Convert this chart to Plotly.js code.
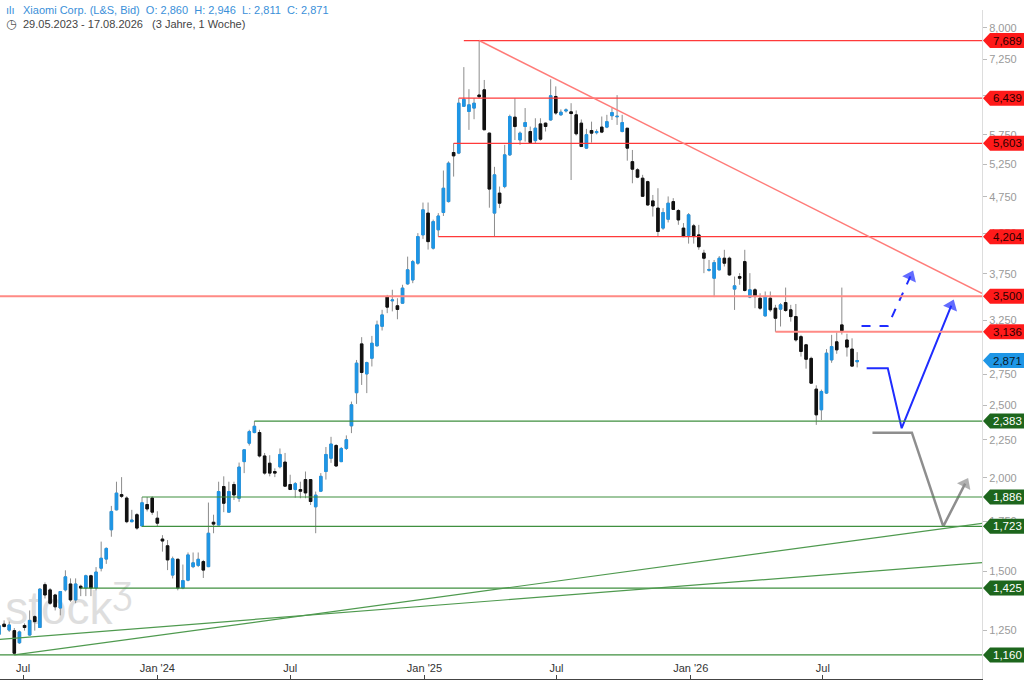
<!DOCTYPE html>
<html>
<head>
<meta charset="utf-8">
<script src="https://cdn.plot.ly/plotly-3.0.1.min.js"></script>
<style>
  html, body { margin: 0; padding: 0; background: #fff; }
  #chart { width: 1024px; height: 680px; }
</style>
</head>
<body>
<div id="chart"></div>
<script>
// weekly candles, first week starts 29.05.2023
const startDate = Date.UTC(2023, 4, 29);

const opens = [
  1.236, 1.275, 1.252, 1.25, 1.204, 1.27, 1.233, 1.305, 1.262, 1.44,
  1.417, 1.395, 1.34, 1.417, 1.443, 1.374, 1.433, 1.425, 1.48, 1.425,
  1.515, 1.558, 1.705, 1.813, 1.90, 1.88, 1.748, 1.786, 1.725, 1.843,
  1.88, 1.767, 1.657, 1.623, 1.483, 1.557, 1.425, 1.46, 1.522, 1.528,
  1.546, 1.522, 1.745, 1.73, 1.948, 1.80, 1.96, 1.879, 2.103, 2.226,
  2.30, 2.30, 2.14, 2.093, 2.04, 2.07, 2.10, 1.96, 1.93, 1.93,
  1.99, 1.99, 1.83, 1.92, 2.04, 2.125, 2.21, 2.103, 2.19, 2.348,
  2.60, 3.022, 2.755, 2.891, 3.004, 3.19, 3.496, 3.45, 3.398, 3.425,
  3.635, 3.679, 3.874, 4.227, 4.52, 4.058, 4.293, 4.528, 4.683, 5.447,
  5.437, 6.28, 6.18, 6.245, 6.502, 6.607, 5.782, 4.52, 4.807, 4.905,
  5.408, 6.073, 5.662, 5.901, 5.811, 5.65, 5.949, 5.962, 6.021, 6.473,
  6.117, 6.19, 6.173, 6.117, 5.962, 5.521, 5.829, 5.79, 5.89, 5.89,
  6.10, 6.08, 5.811, 5.87, 5.296, 5.164, 5.033, 4.98, 4.693, 4.59,
  4.316, 4.435, 4.683, 4.556, 4.316, 4.218, 4.346, 4.227, 3.996, 3.79,
  3.699, 3.796, 3.934, 3.934, 3.577, 3.718, 3.893, 3.49, 3.569, 3.478,
  3.294, 3.478, 3.373, 3.363, 3.432, 3.356, 3.287, 3.09, 3.013, 2.89,
  2.629, 2.467, 2.597, 2.876, 3.041, 3.204, 3.0585, 2.974, 2.860
];
const highs = [
  1.28, 1.29, 1.285, 1.26, 1.25, 1.278, 1.33, 1.31, 1.425, 1.45,
  1.425, 1.40, 1.41, 1.505, 1.468, 1.468, 1.44, 1.485, 1.485, 1.52,
  1.644, 1.615, 1.835, 1.977, 2.005, 1.89, 1.813, 1.795, 1.886, 1.886,
  1.89, 1.805, 1.677, 1.652, 1.57, 1.56, 1.532, 1.59, 1.59, 1.59,
  1.554, 1.854, 1.786, 1.977, 2.01, 1.977, 1.977, 2.097, 2.181, 2.32,
  2.383, 2.32, 2.16, 2.145, 2.06, 2.19, 2.16, 2.02, 1.975, 1.977,
  2.04, 1.99, 1.918, 2.03, 2.20, 2.27, 2.22, 2.20, 2.28, 2.53,
  2.876, 3.085, 2.861, 3.097, 3.246, 3.356, 3.514, 3.57, 3.478, 3.625,
  3.953, 3.913, 4.25, 4.669, 4.67, 4.43, 4.52, 5.153, 5.30, 5.606,
  6.438, 7.085, 6.62, 6.44, 7.689, 6.81, 5.79, 5.212, 4.905, 5.577,
  6.12, 6.438, 5.811, 6.246, 5.90, 6.053, 6.053, 5.973, 6.825, 6.677,
  6.22, 6.24, 6.34, 6.20, 6.03, 5.859, 5.99, 5.85, 6.085, 6.117,
  6.246, 6.50, 6.117, 5.87, 5.49, 5.19, 5.085, 4.994, 4.78, 4.88,
  4.59, 4.758, 4.733, 4.576, 4.383, 4.52, 4.372, 4.359, 4.037, 3.913,
  3.913, 3.96, 4.037, 3.953, 3.718, 3.757, 4.037, 3.757, 3.588, 3.532,
  3.551, 3.551, 3.408, 3.425, 3.594, 3.408, 3.417, 3.107, 3.022, 2.905,
  2.66, 2.625, 2.974, 3.107, 3.131, 3.594, 3.118, 3.074, 2.946
];
const lows = [
  1.23, 1.262, 1.245, 1.16, 1.20, 1.25, 1.23, 1.25, 1.26, 1.38,
  1.353, 1.33, 1.31, 1.41, 1.366, 1.36, 1.39, 1.39, 1.39, 1.415,
  1.50, 1.535, 1.669, 1.81, 1.88, 1.74, 1.745, 1.705, 1.723, 1.804,
  1.785, 1.72, 1.594, 1.506, 1.468, 1.415, 1.42, 1.455, 1.515, 1.52,
  1.47, 1.52, 1.687, 1.73, 1.80, 1.80, 1.869, 1.858, 2.03, 2.21,
  2.295, 2.13, 2.02, 2.01, 2.005, 2.06, 1.948, 1.93, 1.882, 1.879,
  1.879, 1.84, 1.687, 1.915, 1.99, 2.095, 2.07, 2.10, 2.18, 2.296,
  2.512, 2.663, 2.597, 2.819, 2.998, 3.149, 3.322, 3.34, 3.26, 3.417,
  3.625, 3.643, 3.856, 4.175, 4.04, 4.04, 4.204, 4.48, 4.67, 5.058,
  5.42, 6.27, 5.84, 6.035, 6.44, 5.84, 4.596, 4.204, 4.59, 4.88,
  5.39, 5.66, 5.577, 5.633, 5.594, 5.606, 5.65, 5.811, 6.01, 6.117,
  6.10, 6.16, 5.005, 5.74, 5.54, 5.505, 5.616, 5.76, 5.782, 5.871,
  6.021, 5.93, 5.794, 5.312, 4.955, 5.033, 4.751, 4.621, 4.472, 4.205,
  4.293, 4.392, 4.566, 4.36, 4.198, 4.115, 4.115, 4.037, 3.757, 3.775,
  3.49, 3.788, 3.835, 3.725, 3.355, 3.625, 3.551, 3.478, 3.373, 3.356,
  3.287, 3.335, 3.136, 3.188, 3.335, 3.236, 3.043, 2.906, 2.80, 2.675,
  2.355, 2.39, 2.59, 2.851, 2.931, 3.11, 2.906, 2.816, 2.811
];
const closes = [
  1.269, 1.266, 1.272, 1.166, 1.245, 1.262, 1.29, 1.285, 1.42, 1.395,
  1.36, 1.345, 1.41, 1.475, 1.374, 1.443, 1.425, 1.48, 1.425, 1.497,
  1.562, 1.61, 1.804, 1.909, 1.89, 1.748, 1.757, 1.714, 1.853, 1.818,
  1.80, 1.74, 1.647, 1.554, 1.559, 1.425, 1.458, 1.578, 1.54, 1.557,
  1.506, 1.687, 1.735, 1.918, 1.85, 1.918, 1.898, 2.068, 2.181, 2.307,
  2.345, 2.14, 2.03, 2.03, 2.03, 2.15, 1.95, 1.93, 1.965, 1.92,
  1.91, 1.86, 1.897, 2.01, 2.15, 2.22, 2.075, 2.19, 2.25, 2.505,
  2.848, 2.767, 2.853, 3.028, 3.204, 3.304, 3.384, 3.46, 3.36, 3.588,
  3.796, 3.893, 4.205, 4.566, 4.14, 4.403, 4.48, 4.88, 5.271, 5.391,
  6.34, 6.417, 6.308, 6.34, 6.468, 5.842, 4.867, 5.085, 4.66, 5.408,
  6.085, 5.90, 5.782, 5.973, 5.616, 5.871, 5.675, 5.901, 6.487, 6.151,
  6.167, 6.21, 6.141, 5.77, 5.548, 5.754, 5.782, 5.81, 5.80, 5.99,
  6.16, 6.09, 5.973, 5.521, 5.175, 5.049, 4.76, 4.635, 4.621, 4.271,
  4.528, 4.66, 4.571, 4.426, 4.205, 4.496, 4.205, 4.075, 3.934, 3.80,
  3.881, 3.934, 3.874, 3.737, 3.613, 3.699, 3.562, 3.569, 3.496, 3.373,
  3.496, 3.356, 3.27, 3.408, 3.349, 3.287, 3.059, 2.952, 2.882, 2.678,
  2.429, 2.61, 2.937, 2.997, 2.967, 3.147, 2.992, 2.822, 2.871
];

// support / resistance levels, start = candle index where the line begins (null = full width)
const redLevels = [7.689, 6.439, 5.603, 4.204, 3.500, 3.136];
const redStarts = [91, 90, 89, 86, null, 152];
const greenLevels = [2.383, 1.886, 1.723, 1.425, 1.160];
const greenStarts = [50, 28, 28, 16, null];
const lastPrice = 2.871;

// trend lines: value at start and at right edge
const redTrend = { start: 94, from: 7.689, to: 3.53 };
const greenTrendA = { from: 1.217, to: 1.541 };
const greenTrendB = { start: 3, from: 1.160, to: 1.7395 };

// projected paths
const blueX = ['2026-08-30', '2026-09-28', '2026-10-17', '2026-12-24'];
const blueY = [2.803, 2.803, 2.331, 3.40];
const dashX = ['2026-08-23', '2026-09-28', '2026-10-29'];
const dashY = [3.193, 3.193, 3.72];
const grayX = ['2026-09-07', '2026-10-31', '2026-12-13', '2027-01-12'];
const grayY = [2.299, 2.299, 1.723, 1.965];

const yTicks = [1.25, 1.5, 1.75, 2, 2.25, 2.5, 2.75, 3.25, 3.75, 4.25, 4.75, 5.25, 5.75, 6.5, 7.25, 8];
const xTicks = ['2023-07-01', '2024-01-01', '2024-07-01', '2025-01-01', '2025-07-01', '2026-01-01', '2026-07-01'];
const xTickText = ['Jul', "Jan '24", 'Jul', "Jan '25", 'Jul', "Jan '26", 'Jul'];

const xRange = ['2023-05-30 09:00', '2027-02-04 02:00'];
const yRange = [1.077, 8.447];

const fmt = (v) => v.toFixed(3).replace('.', ',');
const dates = opens.map((_, i) => new Date(startDate + i * 7 * 86400000).toISOString().slice(0, 10));

const font = 'Liberation Sans, Arial, sans-serif';
const blue = '#1e96e6';

const wicks = {
  type: 'candlestick',
  x: dates, open: opens, high: highs, low: lows, close: closes,
  increasing: { line: { color: '#8c8c8c', width: 1 }, fillcolor: '#8c8c8c' },
  decreasing: { line: { color: '#8c8c8c', width: 1 }, fillcolor: '#8c8c8c' },
  whiskerwidth: 0,
  hoverinfo: 'skip',
};
const bodies = {
  type: 'candlestick',
  x: dates, open: opens, close: closes,
  high: opens.map((o, i) => Math.max(o, closes[i])),
  low: opens.map((o, i) => Math.min(o, closes[i])),
  increasing: { line: { color: blue, width: 1 }, fillcolor: blue },
  decreasing: { line: { color: '#111111', width: 1 }, fillcolor: '#111111' },
  whiskerwidth: 0,
  hoverinfo: 'skip',
};

// projected path with a solid arrow head on its last point
function arrowPath(xs, ys, color, width, dash) {
  return {
    type: 'scatter', mode: 'lines+markers', x: xs, y: ys,
    line: { color, width, dash },
    marker: {
      symbol: 'triangle-up', angleref: 'previous', color,
      size: xs.map((_, i) => (i === xs.length - 1 ? 13 : 0)),
      line: { width: 0 },
    },
    hoverinfo: 'skip',
  };
}
const grayPath = arrowPath(grayX, grayY, '#8e8e8e', 2.5, 'solid');
const bluePath = arrowPath(blueX, blueY, '#1f2cff', 2, 'solid');
const dashPath = arrowPath(dashX, dashY, '#1f2cff', 2, 'dash');

const shapes = [];
const annotations = [];

// watermark behind the candles
shapes.push({
  type: 'rect', xref: 'paper', yref: 'paper', x0: 0, x1: 0.14, y0: 0.058, y1: 0.158,
  line: { width: 0 }, layer: 'below',
  label: { text: 'stock<sup>Ʒ</sup>', font: { family: font, size: 46, color: '#dedede' }, textposition: 'middle center' },
});

function levelLine(value, start, color, width) {
  if (start === null) {
    shapes.push({ type: 'line', xref: 'paper', yref: 'y', x0: 0, x1: 1, y0: value, y1: value,
      line: { color, width } });
  } else {
    shapes.push({ type: 'line', xref: 'x', yref: 'y', x0: dates[start], x1: xRange[1], y0: value, y1: value,
      line: { color, width } });
  }
}

function priceTag(value, fill, textColor) {
  shapes.push({
    type: 'path', xref: 'paper', yref: 'y', xsizemode: 'pixel', ysizemode: 'pixel',
    xanchor: 1, yanchor: value,
    path: 'M 1 0 L 8 7.5 L 42 7.5 L 42 -7.5 L 8 -7.5 Z',
    fillcolor: fill, line: { width: 0 }, layer: 'above',
  });
  annotations.push({
    xref: 'paper', x: 1, xshift: 25, xanchor: 'center',
    yref: 'y', y: Math.log10(value), yanchor: 'middle',
    text: fmt(value), showarrow: false,
    font: { family: font, size: 11.5, color: textColor },
  });
}

redLevels.forEach((v, i) => {
  const soft = redStarts[i] === null || redStarts[i] > 150;
  levelLine(v, redStarts[i], soft ? '#ff8a85' : '#ff3a3a', soft ? 2 : 1.2);
  priceTag(v, '#ff1a1a', '#2a0000');
});
greenLevels.forEach((v, i) => {
  levelLine(v, greenStarts[i], '#3f8f3f', 1.2);
  priceTag(v, '#1d661d', '#ffffff');
});
priceTag(lastPrice, blue, '#0b1a2a');

// trend lines
shapes.push({ type: 'line', xref: 'x', yref: 'y', x0: dates[redTrend.start], x1: xRange[1],
  y0: redTrend.from, y1: redTrend.to, line: { color: '#ff7b78', width: 1.5 } });
shapes.push({ type: 'line', xref: 'paper', yref: 'y', x0: 0, x1: 1,
  y0: greenTrendA.from, y1: greenTrendA.to, line: { color: '#4f9a4f', width: 1.2 } });
shapes.push({ type: 'line', xref: 'x', yref: 'y', x0: dates[greenTrendB.start], x1: xRange[1],
  y0: greenTrendB.from, y1: greenTrendB.to, line: { color: '#4f9a4f', width: 1.2 } });

// header
annotations.push({
  xref: 'paper', yref: 'paper', x: 0.004, y: 1.0, xanchor: 'left', yanchor: 'middle',
  text: 'ılı', showarrow: false, font: { family: font, size: 11, color: '#3a8fd9' },
});
annotations.push({
  xref: 'paper', yref: 'paper', x: 0.021, y: 1.0, xanchor: 'left', yanchor: 'middle',
  text: 'Xiaomi Corp. (L&S, Bid)  O: ' + fmt(opens[opens.length - 1]) + '  H: ' + fmt(highs[highs.length - 1]) +
    '  L: ' + fmt(lows[lows.length - 1]) + '  C: ' + fmt(closes[closes.length - 1]),
  showarrow: false, font: { family: font, size: 11, color: '#3a8fd9' },
});
annotations.push({
  xref: 'paper', yref: 'paper', x: 0.004, y: 0.9785, xanchor: 'left', yanchor: 'middle',
  text: '◷', showarrow: false, font: { family: 'DejaVu Sans', size: 12, color: '#555' },
});
annotations.push({
  xref: 'paper', yref: 'paper', x: 0.021, y: 0.9785, xanchor: 'left', yanchor: 'middle',
  text: '29.05.2023 - 17.08.2026   (3 Jahre, 1 Woche)',
  showarrow: false, font: { family: font, size: 11, color: '#444' },
});

const layout = {
  width: 1024,
  height: 680,
  margin: { l: 0, r: 42, t: 10, b: 1, pad: 0 },
  paper_bgcolor: '#ffffff',
  plot_bgcolor: '#ffffff',
  showlegend: false,
  hovermode: false,
  dragmode: false,
  font: { family: font },
  xaxis: {
    type: 'date',
    range: xRange,
    rangeslider: { visible: false },
    showgrid: false,
    zeroline: false,
    showline: true,
    linecolor: '#444',
    linewidth: 1,
    ticks: 'inside',
    ticklen: 4,
    tickcolor: '#444',
    ticklabelposition: 'inside',
    tickvals: xTicks,
    ticktext: xTickText,
    tickfont: { family: font, size: 11, color: '#333' },
  },
  yaxis: {
    type: 'log',
    side: 'right',
    range: yRange.map(Math.log10),
    showgrid: false,
    zeroline: false,
    showline: true,
    linecolor: '#dddddd',
    ticks: 'outside',
    ticklen: 4,
    tickcolor: '#bbbbbb',
    tickvals: yTicks,
    ticktext: yTicks.map(fmt),
    tickfont: { family: font, size: 11, color: '#9a9a9a' },
  },
  shapes,
  annotations,
};

Plotly.newPlot('chart', [wicks, bodies, grayPath, bluePath, dashPath], layout, {
  staticPlot: true,
  displayModeBar: false,
});
</script>
</body>
</html>
